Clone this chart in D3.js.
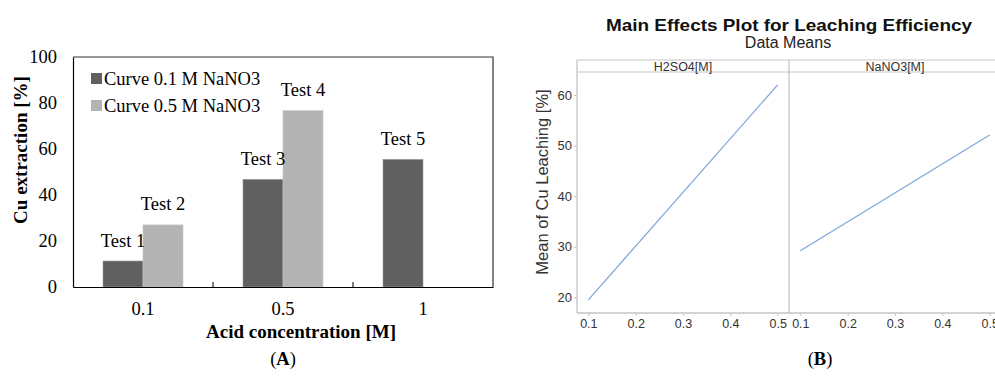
<!DOCTYPE html>
<html>
<head>
<meta charset="utf-8">
<script src="https://cdn.jsdelivr.net/npm/d3@7"></script>
<style>
  body { margin: 0; background: #fff; }
  svg { display: block; }
</style>
</head>
<body>
<script>
// Panel A data
const acidLevels = ["0.1", "0.5", "1"];
const seriesNames = ["Curve 0.1 M NaNO3", "Curve 0.5 M NaNO3"];
const curve01 = [11.3, 46.8, 55.5];
const curve05 = [27, 76.7, null];
const testLabels01 = ["Test 1", "Test 3", "Test 5"];
const testLabels05 = ["Test 2", "Test 4", null];
const yTicksA = [0, 20, 40, 60, 80, 100];

// Panel B data
const factorNames = ["H2SO4[M]", "NaNO3[M]"];
const factorLevels = [0.1, 0.5];
const h2so4Means = [19.5, 62];
const nano3Means = [29.2, 52.1];
const xTicksB = [0.1, 0.2, 0.3, 0.4, 0.5];
const yTicksB = [20, 30, 40, 50, 60];

const svg = d3.select("body").append("svg")
    .attr("width", 995)
    .attr("height", 382);

// ---------- Panel A ----------
const serif = "'Liberation Serif', 'Times New Roman', serif";
const fsA = 18.5;
const a = { left: 73, right: 493, top: 57, bottom: 287 };
const gA = svg.append("g").style("font-family", serif);

const x0 = d3.scaleBand().domain(acidLevels).range([a.left, a.right]);
const x1 = d3.scaleBand().domain(seriesNames)
    .range([0, x0.bandwidth()]).paddingInner(0).paddingOuter(0.75);
const yA = d3.scaleLinear().domain([0, 100]).range([a.bottom, a.top]);
const colors = ["#606060", "#b3b3b3"];

// frame top/right
gA.append("path")
    .attr("d", `M${a.left},${a.top}H${a.right}V${a.bottom}`)
    .attr("fill", "none").attr("stroke", "#333").attr("stroke-width", 1.2);

const barData = [];
acidLevels.forEach((lvl, i) => {
    [curve01, curve05].forEach((s, j) => {
        if (s[i] != null) barData.push({ lvl, series: seriesNames[j], v: s[i], j,
            label: j === 0 ? testLabels01[i] : testLabels05[i] });
    });
});

gA.selectAll("rect.bar").data(barData).enter().append("rect")
    .attr("class", "bar")
    .attr("x", d => x0(d.lvl) + x1(d.series))
    .attr("y", d => yA(d.v))
    .attr("width", x1.bandwidth())
    .attr("height", d => yA(0) - yA(d.v))
    .attr("fill", d => colors[d.j])
    .attr("stroke", d => d.j === 0 ? "#9a9a9a" : "#c8c8c8")
    .attr("stroke-width", 0.6);

gA.selectAll("text.tlab").data(barData).enter().append("text")
    .attr("class", "tlab")
    .attr("x", d => x0(d.lvl) + x1(d.series) + x1.bandwidth() / 2)
    .attr("y", d => yA(d.v) - 14.5)
    .attr("text-anchor", "middle")
    .attr("font-size", fsA)
    .text(d => d.label);

// y axis
const yAxisA = d3.axisLeft(yA).tickValues(yTicksA).tickSize(0).tickPadding(16);
const gy = gA.append("g").attr("transform", `translate(${a.left},0)`).call(yAxisA);
gy.select(".domain").attr("stroke", "#000").attr("stroke-width", 1.2);
gy.selectAll("text").attr("font-size", fsA).attr("font-family", serif).attr("fill", "#000");

// x axis with inner ticks between groups
const xAxisA = d3.axisBottom(x0).tickSize(0).tickPadding(15);
const gx = gA.append("g").attr("transform", `translate(0,${a.bottom})`).call(xAxisA);
gx.select(".domain").attr("stroke", "#000").attr("stroke-width", 1.2);
gx.selectAll("text").attr("font-size", fsA).attr("font-family", serif).attr("fill", "#000");
gA.selectAll("line.sep").data(acidLevels.slice(1)).enter().append("line")
    .attr("x1", d => x0(d)).attr("x2", d => x0(d))
    .attr("y1", a.bottom).attr("y2", a.bottom - 5)
    .attr("stroke", "#000");

// legend
const leg = gA.append("g");
seriesNames.forEach((name, j) => {
    const ly = 85 + j * 27;
    leg.append("rect").attr("x", 91).attr("y", ly - 12).attr("width", 11).attr("height", 11)
        .attr("fill", colors[j]);
    leg.append("text").attr("x", 104).attr("y", ly).attr("font-size", fsA).text(name);
});

// axis titles
gA.append("text")
    .attr("transform", `translate(27,150) rotate(-90)`)
    .attr("text-anchor", "middle").attr("font-size", 19).attr("font-weight", "bold")
    .text("Cu extraction [%]");
gA.append("text")
    .attr("x", 301).attr("y", 338)
    .attr("text-anchor", "middle").attr("font-size", 19).attr("font-weight", "bold")
    .text("Acid concentration [M]");
gA.append("text")
    .attr("x", 283).attr("y", 365)
    .attr("text-anchor", "middle").attr("font-size", fsA)
    .html("(<tspan font-weight='bold'>A</tspan>)");

// ---------- Panel B ----------
const sans = "'Liberation Sans', Arial, sans-serif";
const b = { left: 577, top: 60, strip: 72, bottom: 313, panelW: 212 };
const gB = svg.append("g").style("font-family", sans);

gB.append("text").attr("x", 789).attr("y", 30.5).attr("text-anchor", "middle")
    .attr("font-size", 16.5).attr("font-weight", "bold").attr("fill", "#111")
    .attr("textLength", 366).attr("lengthAdjust", "spacingAndGlyphs")
    .text("Main Effects Plot for Leaching Efficiency");
gB.append("text").attr("x", 788).attr("y", 48).attr("text-anchor", "middle")
    .attr("font-size", 16).attr("fill", "#222")
    .text("Data Means");

const yB = d3.scaleLinear().domain([20, 60]).range([297.3, 95]);
const frameColor = "#c4c4c4";

const panels = [h2so4Means, nano3Means];
panels.forEach((means, k) => {
    const px = b.left + k * b.panelW;
    const xB = d3.scaleLinear().domain([0.076, 0.524]).range([px, px + b.panelW]);
    const g = gB.append("g");

    // frame pieces
    g.append("line").attr("x1", px).attr("x2", px + b.panelW + (k === 1 ? 10 : 0))
        .attr("y1", b.top).attr("y2", b.top).attr("stroke", frameColor);
    g.append("line").attr("x1", px).attr("x2", px + b.panelW + (k === 1 ? 10 : 0))
        .attr("y1", b.strip).attr("y2", b.strip).attr("stroke", frameColor);
    g.append("line").attr("x1", px).attr("x2", px)
        .attr("y1", b.top).attr("y2", b.bottom).attr("stroke", frameColor)
        .attr("stroke-width", 1.3);
    g.append("text").attr("x", px + b.panelW / 2).attr("y", b.strip - 1.5)
        .attr("text-anchor", "middle").attr("font-size", 12.5).attr("fill", "#333")
        .text(factorNames[k]);

    const xAxisB = d3.axisBottom(xB).tickValues(xTicksB).tickSize(3).tickPadding(3)
        .tickFormat(d3.format(".1f"));
    const ga = g.append("g").attr("transform", `translate(0,${b.bottom})`).call(xAxisB);
    ga.select(".domain").attr("stroke", frameColor).attr("stroke-width", 1.3)
        .attr("d", `M${px},0H${px + b.panelW + (k === 1 ? 10 : 0)}`);
    ga.selectAll("line").attr("stroke", frameColor);
    ga.selectAll("text").attr("font-size", 12.5).attr("font-family", sans).attr("fill", "#333");

    const line = d3.line().x((d, i) => xB(factorLevels[i])).y(d => yB(d));
    g.append("path").datum(means).attr("d", line)
        .attr("fill", "none").attr("stroke", "#7fa9d9").attr("stroke-width", 1.3);
});

const yAxisB = d3.axisLeft(yB).tickValues(yTicksB).tickSize(3).tickPadding(2);
const gyb = gB.append("g").attr("transform", `translate(${b.left},0)`).call(yAxisB);
gyb.select(".domain").remove();
gyb.selectAll("line").attr("stroke", frameColor);
gyb.selectAll("text").attr("font-size", 13).attr("font-family", sans).attr("fill", "#333");

gB.append("text")
    .attr("transform", `translate(547.5,182) rotate(-90)`)
    .attr("text-anchor", "middle").attr("font-size", 16.5).attr("fill", "#333")
    .text("Mean of Cu Leaching [%]");

gB.append("text")
    .attr("x", 820).attr("y", 365)
    .attr("text-anchor", "middle").attr("font-size", fsA).attr("font-family", serif)
    .html("(<tspan font-weight='bold'>B</tspan>)");
</script>
</body>
</html>
